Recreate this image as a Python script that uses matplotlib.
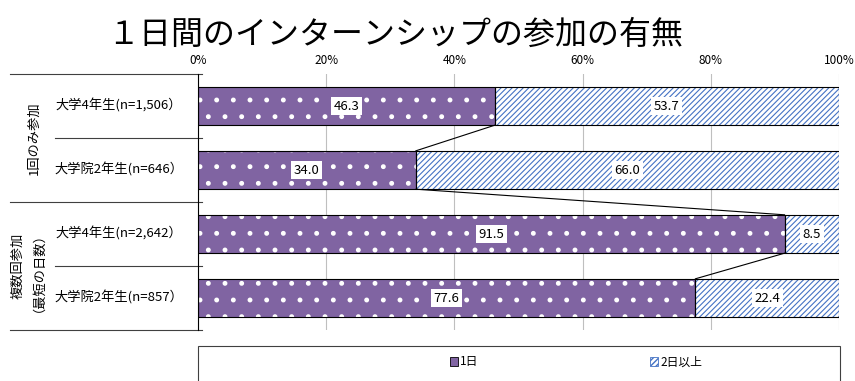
import matplotlib
matplotlib.use("Agg")
import matplotlib.pyplot as plt
from matplotlib.patches import Rectangle, Patch
from matplotlib.lines import Line2D
import matplotlib.transforms as mtrans

plt.rcParams['font.family'] = ['Noto Sans CJK JP', 'DejaVu Sans']

title = '１日間のインターンシップの参加の有無'
categories = ['大学4年生(n=1,506）', '大学院2年生(n=646）', '大学4年生(n=2,642）', '大学院2年生(n=857）']
groups = ['1回のみ参加', '複数回参加\n（最短の日数）']
series_names = ['1日', '2日以上']
one_day = [46.3, 34.0, 91.5, 77.6]
two_plus = [53.7, 66.0, 8.5, 22.4]
xticks = [0, 20, 40, 60, 80, 100]
xtick_labels = ['0%', '20%', '40%', '60%', '80%', '100%']

purple = '#8064A2'
blue = '#4472C4'


def set_hlw(container, lw):
    for p in container:
        try:
            p.set_hatch_linewidth(lw)
        except Exception:
            pass


fig = plt.figure(figsize=(8.55, 3.81), dpi=100)
ax = fig.add_axes([198/855, 1-330/381, 641/855, 256/381])

y = list(range(len(categories)))
h = 0.6

# fills with textures
b1 = ax.barh(y, one_day, height=h, color=purple, edgecolor='white', hatch='.', linewidth=0, zorder=2)
b2 = ax.barh(y, two_plus, left=one_day, height=h, color='white', edgecolor=blue, hatch='//////', linewidth=0, zorder=2)
set_hlw(b1, 1.1)
set_hlw(b2, 0.8)
# outlines
ax.barh(y, one_day, height=h, fill=False, edgecolor='black', linewidth=0.8, zorder=3)
ax.barh(y, two_plus, left=one_day, height=h, fill=False, edgecolor='black', linewidth=0.8, zorder=3)

# series lines
for i in range(len(y) - 1):
    ax.plot([one_day[i], one_day[i+1]], [y[i] + h/2, y[i+1] - h/2], color='black', lw=0.8, zorder=3)

# data labels
for i in range(len(y)):
    ax.text(one_day[i]/2, y[i], f'{one_day[i]:.1f}', ha='center', va='center', fontsize=9.5,
            bbox=dict(boxstyle='square,pad=0.2', fc='white', ec='none'), zorder=4)
    ax.text(one_day[i] + two_plus[i]/2, y[i], f'{two_plus[i]:.1f}', ha='center', va='center', fontsize=9.5,
            bbox=dict(boxstyle='square,pad=0.2', fc='white', ec='none'), zorder=4)

ax.set_xlim(0, 100)
ax.set_ylim(len(y) - 0.5, -0.5)
ax.set_xticks(xticks)
ax.set_xticklabels(xtick_labels, fontsize=8.5)
ax.xaxis.tick_top()
ax.tick_params(axis='x', length=0, pad=5)
ax.set_yticks([])
ax.grid(axis='x', color='#BFBFBF', lw=0.8, zorder=0)
for s in ['top', 'right', 'bottom']:
    ax.spines[s].set_visible(False)
ax.spines['left'].set_color('black')
ax.spines['left'].set_linewidth(0.8)

# category labels and separators
tr = mtrans.blended_transform_factory(ax.transAxes, ax.transData)
for i, c in enumerate(categories):
    ax.text(-0.123, y[i], c, transform=tr, ha='center', va='center', fontsize=9.5)
bounds = [-0.5, 0.5, 1.5, 2.5, 3.5]
for k, b in enumerate(bounds):
    x0 = (10 - 198) / 641 if k % 2 == 0 else (55 - 198) / 641
    ax.add_line(Line2D([x0, 4/641], [b, b], transform=tr, color='#404040', lw=0.8, clip_on=False))
for g, gy, gx in zip(groups, [0.5, 2.5], [34, 25]):
    ax.text((gx - 198) / 641, gy, g, transform=tr, ha='center', va='center', rotation=90,
            fontsize=9.5, linespacing=1.05, multialignment='center')

fig.text(395/855, 1-35/381, title, ha='center', va='center', fontsize=23)

# legend
fig.patches.append(Rectangle((198/855, -0.02), 642/855, 0.02 + 1 - 346/381, transform=fig.transFigure,
                             fill=False, edgecolor='#404040', lw=0.8))
handles = [Patch(facecolor=purple, edgecolor='black', lw=0.6),
           Patch(facecolor='white', edgecolor=blue, hatch='//////', lw=0.6)]
fig.legend(handles, series_names, loc='center', bbox_to_anchor=(576/855, 1-362/381), ncol=2,
           frameon=False, fontsize=8.5, handlelength=0.7, handleheight=0.7, handletextpad=0.2,
           columnspacing=14.5)

fig.savefig('out.png', dpi=100)
